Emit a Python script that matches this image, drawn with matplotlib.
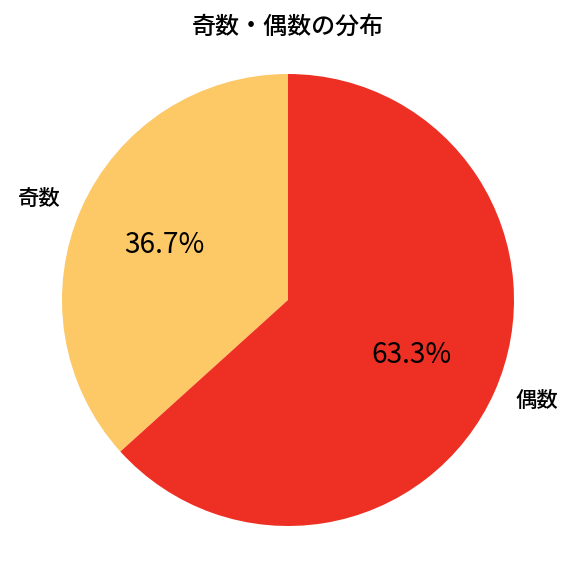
import matplotlib
matplotlib.use("Agg")
import matplotlib.pyplot as plt

plt.rcParams['font.family'] = ['Noto Sans CJK JP', 'DejaVu Sans']

# data
labels = ['奇数', '偶数']
shares = [36.7, 63.3]
colors = ['#FDC866', '#EE3024']

fig = plt.figure(figsize=(6, 6), dpi=96)
ax = fig.add_axes([62 / 576, 50 / 576, 452 / 576, 452 / 576])

wedges, texts, autotexts = ax.pie(shares, labels=labels, colors=colors,
                                  autopct='%1.1f%%', startangle=90,
                                  textprops={'fontsize': 16, 'fontweight': 'medium'})
for t in autotexts:
    t.set_fontsize(21)
    t.set_fontweight('normal')

ax.set_xlim(-1, 1)
ax.set_ylim(-1, 1)
ax.set_aspect('equal')
fig.text(0.5, 1 - 27 / 576, '奇数・偶数の分布', fontsize=18, fontweight='medium',
         ha='center', va='center')

fig.savefig('out.png', dpi=96)
